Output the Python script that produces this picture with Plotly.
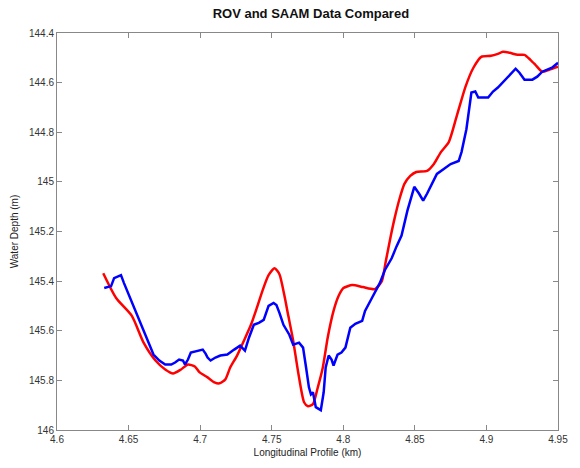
import plotly.graph_objects as go

# ROV (blue) and SAAM (red) profiles
rov_x = [4.6330, 4.6378, 4.6399, 4.6447, 4.6468, 4.6516, 4.6571, 4.6626, 4.6674, 4.6715,
         4.6756, 4.6798, 4.6825, 4.6853, 4.6880, 4.6894, 4.6915, 4.6935, 4.6983, 4.7018,
         4.7038, 4.7052, 4.7073, 4.7107, 4.7141, 4.7190, 4.7238, 4.7279, 4.7313, 4.7341,
         4.7375, 4.7410, 4.7444, 4.7478, 4.7513, 4.7533, 4.7554, 4.7582, 4.7623, 4.7650,
         4.7691, 4.7719, 4.7740, 4.7760, 4.7774, 4.7788, 4.7808, 4.7843, 4.7863, 4.7877,
         4.7898, 4.7918, 4.7932, 4.7960, 4.7987, 4.8015, 4.8049, 4.8084, 4.8132, 4.8152,
         4.8200, 4.8255, 4.8290, 4.8338, 4.8372, 4.8407, 4.8448, 4.8496, 4.8530, 4.8558,
         4.8585, 4.8620, 4.8654, 4.8702, 4.8750, 4.8806, 4.8826, 4.8860, 4.8895, 4.8922,
         4.8943, 4.9012, 4.9046, 4.9080, 4.9135, 4.9183, 4.9204, 4.9231, 4.9266, 4.9321,
         4.9355, 4.9390, 4.9458, 4.9500]
rov_depth = [145.428, 145.420, 145.388, 145.376, 145.408, 145.476, 145.556, 145.628, 145.696, 145.720,
             145.736, 145.736, 145.728, 145.716, 145.720, 145.736, 145.716, 145.688, 145.680, 145.676,
             145.692, 145.708, 145.720, 145.708, 145.700, 145.696, 145.676, 145.660, 145.680, 145.628,
             145.576, 145.568, 145.556, 145.500, 145.488, 145.496, 145.528, 145.576, 145.616, 145.656,
             145.648, 145.668, 145.748, 145.828, 145.856, 145.848, 145.908, 145.920, 145.848, 145.748,
             145.700, 145.716, 145.740, 145.696, 145.688, 145.668, 145.588, 145.572, 145.560, 145.520,
             145.468, 145.408, 145.356, 145.308, 145.260, 145.216, 145.116, 145.020, 145.048, 145.076,
             145.048, 145.008, 144.968, 144.948, 144.928, 144.916, 144.880, 144.788, 144.640, 144.636,
             144.660, 144.660, 144.636, 144.620, 144.588, 144.560, 144.544, 144.560, 144.588, 144.588,
             144.576, 144.556, 144.540, 144.520]

saam_x = [4.6323, 4.6413, 4.6523, 4.6605, 4.6688, 4.6756, 4.6811, 4.6866, 4.6915, 4.6963,
          4.6997, 4.7052, 4.7100, 4.7135, 4.7176, 4.7210, 4.7258, 4.7306, 4.7355, 4.7396,
          4.7437, 4.7478, 4.7520, 4.7554, 4.7588, 4.7616, 4.7650, 4.7685, 4.7726, 4.7753,
          4.7788, 4.7822, 4.7857, 4.7891, 4.7932, 4.7967, 4.8001, 4.8063, 4.8138, 4.8221,
          4.8269, 4.8297, 4.8331, 4.8358, 4.8393, 4.8427, 4.8468, 4.8510, 4.8585, 4.8633,
          4.8682, 4.8737, 4.8792, 4.8854, 4.8909, 4.8964, 4.9032, 4.9080, 4.9115, 4.9163,
          4.9218, 4.9266, 4.9307, 4.9342, 4.9390, 4.9438, 4.9500]
saam_depth = [145.368, 145.468, 145.540, 145.648, 145.720, 145.756, 145.772, 145.756, 145.736, 145.744,
              145.768, 145.788, 145.808, 145.812, 145.796, 145.748, 145.700, 145.640, 145.576, 145.508,
              145.436, 145.376, 145.348, 145.372, 145.456, 145.540, 145.640, 145.768, 145.888, 145.904,
              145.896, 145.828, 145.748, 145.628, 145.520, 145.460, 145.428, 145.416, 145.424, 145.432,
              145.400, 145.320, 145.220, 145.148, 145.068, 145.008, 144.976, 144.960, 144.956, 144.928,
              144.880, 144.840, 144.736, 144.616, 144.540, 144.496, 144.492, 144.484, 144.476, 144.480,
              144.488, 144.488, 144.508, 144.528, 144.556, 144.548, 144.536]

x_ticks = [4.6, 4.65, 4.7, 4.75, 4.8, 4.85, 4.9, 4.95]
x_tick_labels = ["4.6", "4.65", "4.7", "4.75", "4.8", "4.85", "4.9", "4.95"]
y_ticks = [144.4, 144.6, 144.8, 145, 145.2, 145.4, 145.6, 145.8, 146]
y_tick_labels = ["144.4", "144.6", "144.8", "145", "145.2", "145.4", "145.6", "145.8", "146"]

fig = go.Figure()
fig.add_trace(go.Scatter(x=saam_x, y=saam_depth, mode="lines",
                         line=dict(color="#ff0000", width=2.5, shape="spline", smoothing=0.6),
                         name="SAAM"))
fig.add_trace(go.Scatter(x=rov_x, y=rov_depth, mode="lines",
                         line=dict(color="#0000ff", width=2.5), name="ROV"))

axis_common = dict(showgrid=False, zeroline=False, showline=True, linecolor="#888888",
                   linewidth=1, mirror="ticks", ticks="inside", ticklen=5,
                   tickcolor="#888888", tickfont=dict(size=10, color="#333333",
                                                        family="Liberation Sans"))

fig.update_layout(
    width=580, height=468,
    margin=dict(l=57, r=14, t=33, b=35),
    plot_bgcolor="white", paper_bgcolor="white",
    showlegend=False,
    title=dict(text="<b>ROV and SAAM Data Compared</b>", x=0.536, xanchor="center",
               y=0.972, yanchor="middle",
               font=dict(size=13, color="#111111", family="Liberation Sans")),
    xaxis=dict(range=[4.6, 4.95], tickvals=x_ticks, ticktext=x_tick_labels,
               title=dict(text="Longitudinal Profile (km)", standoff=4,
                          font=dict(size=10, color="#222222", family="Liberation Sans")),
               **axis_common),
    yaxis=dict(range=[146, 144.4], tickvals=y_ticks, ticktext=y_tick_labels,
               title=dict(text="Water Depth (m)", standoff=8,
                          font=dict(size=10, color="#222222", family="Liberation Sans")),
               **axis_common),
)

fig.write_html("out.html")
